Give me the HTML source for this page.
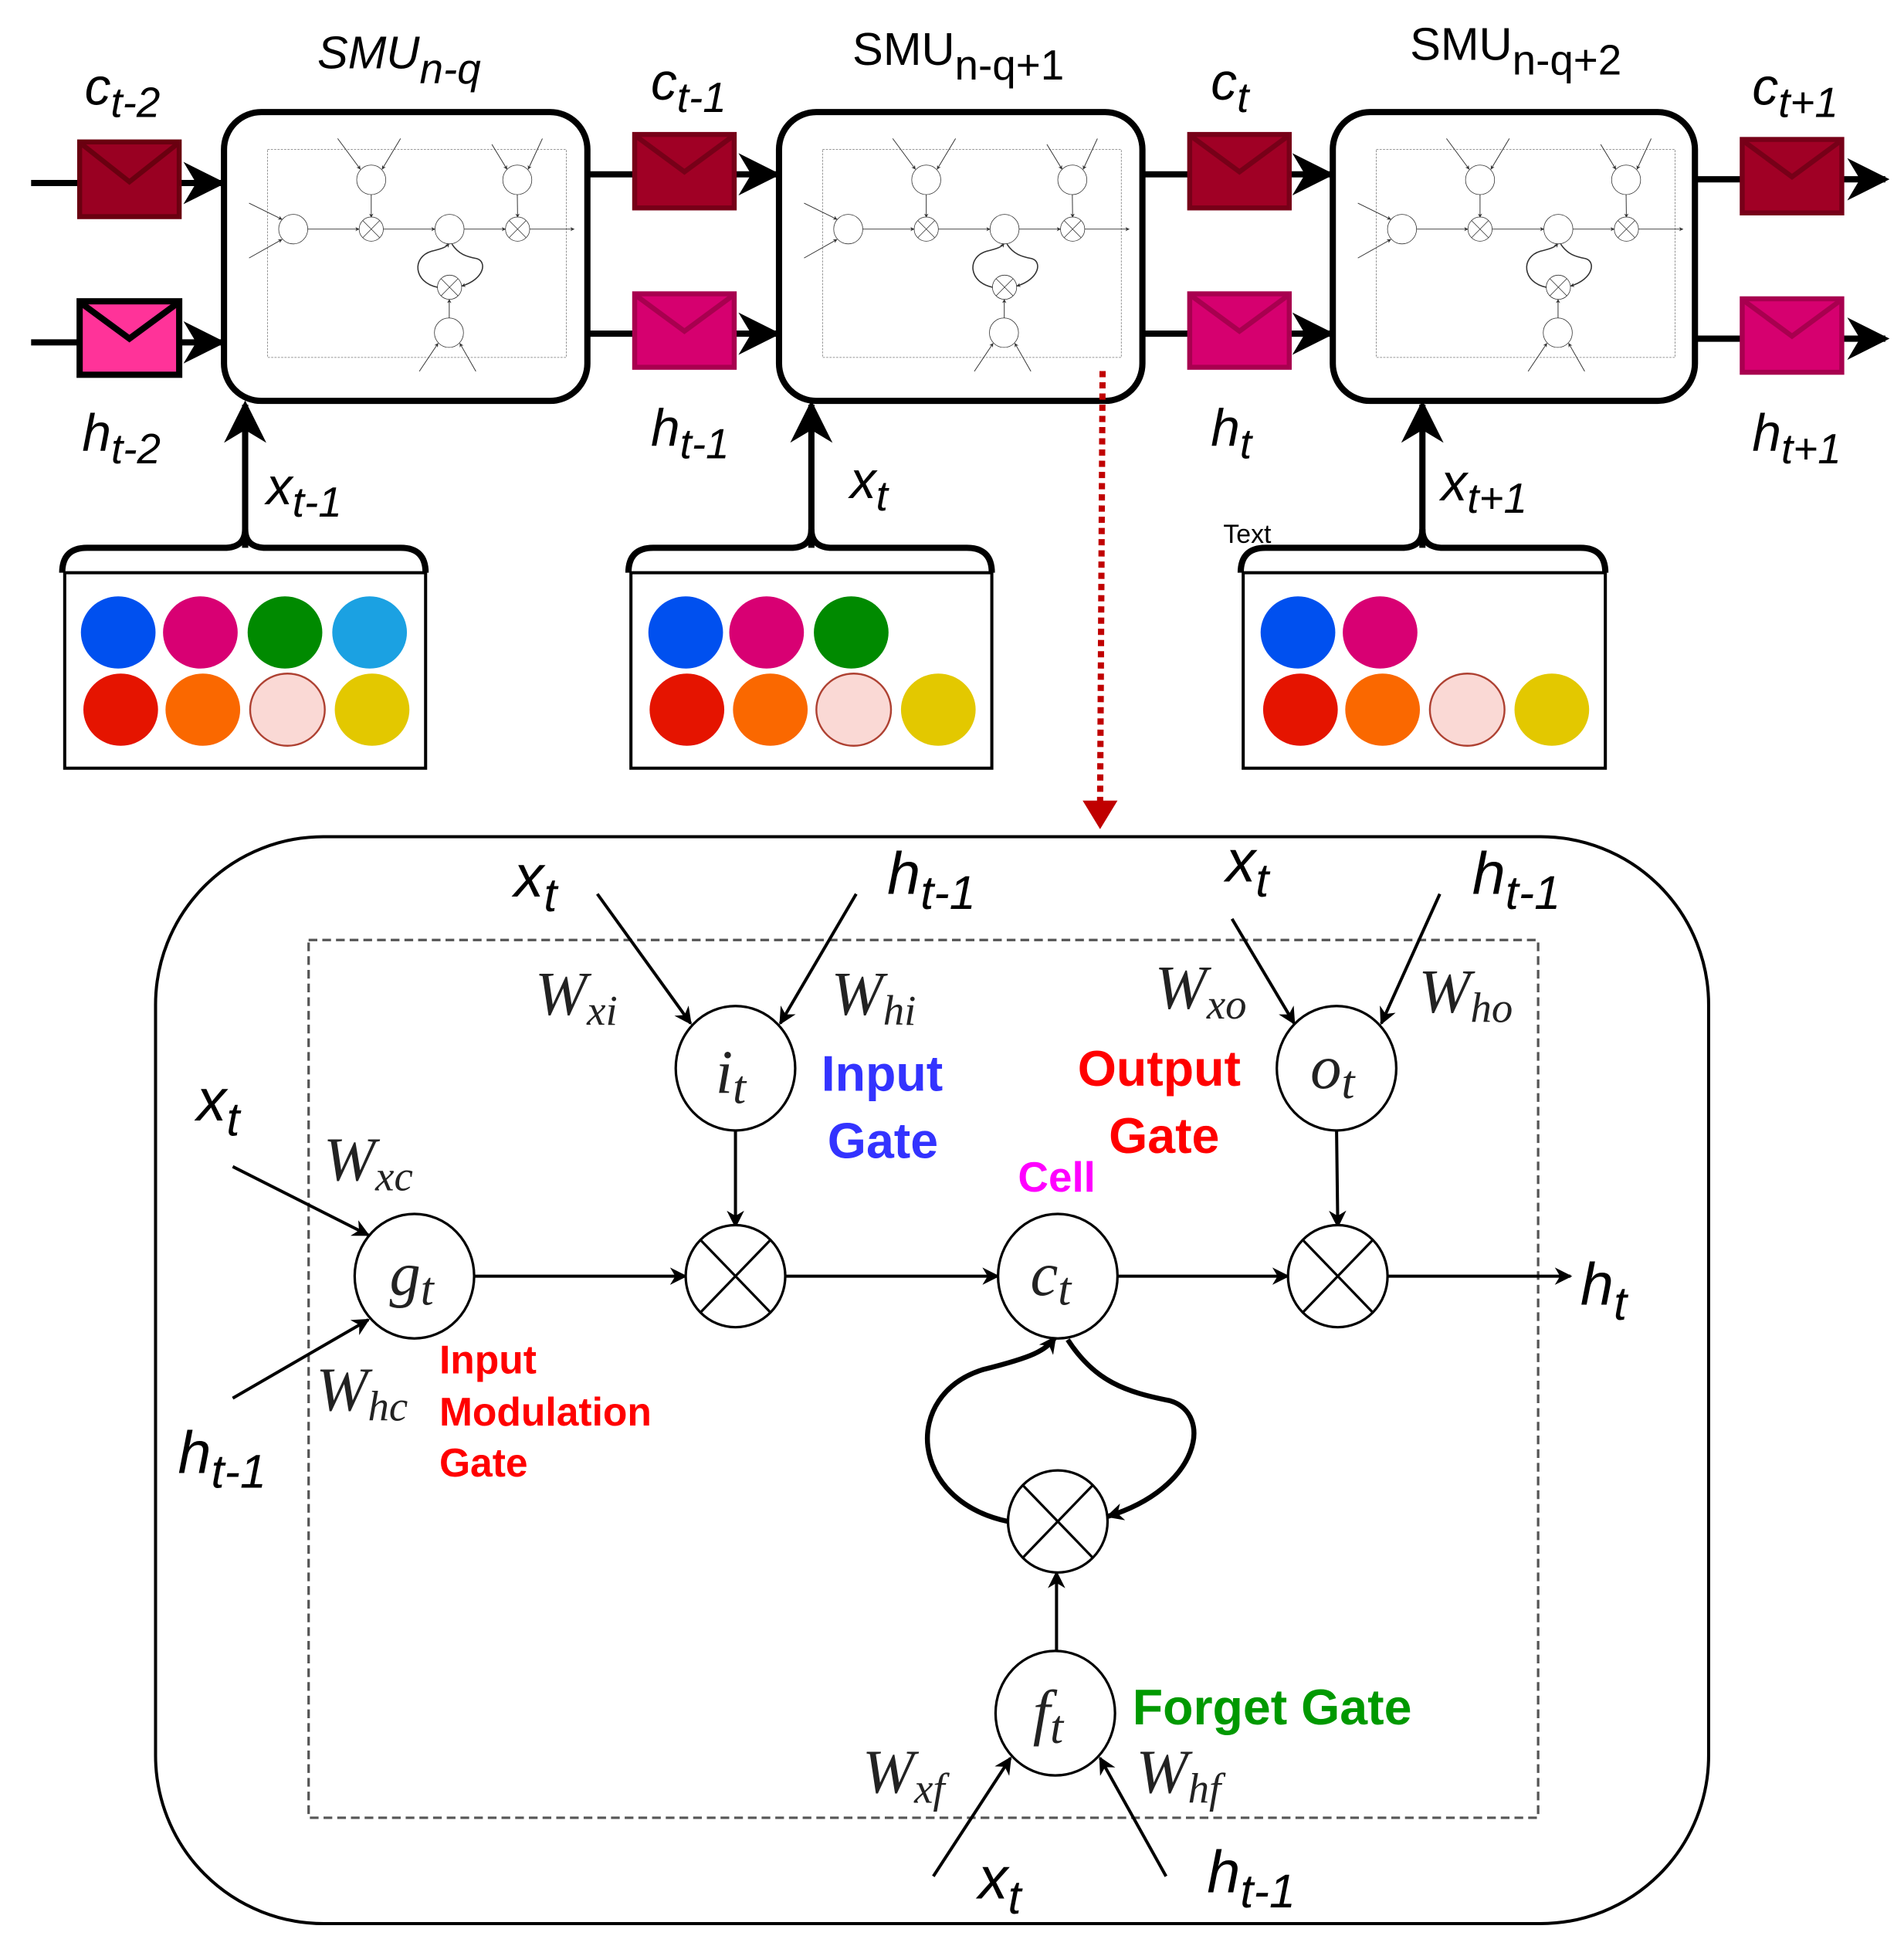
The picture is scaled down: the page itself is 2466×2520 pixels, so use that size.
<!DOCTYPE html>
<html><head><meta charset="utf-8"><style>
html,body{margin:0;padding:0;background:#fff}
svg{display:block}
text{font-family:"Liberation Sans",sans-serif}
.it{font-style:italic}
.ser{font-family:"Liberation Serif",serif;font-style:italic}
</style></head><body>
<svg width="2466" height="2520" viewBox="0 0 1530 1563" preserveAspectRatio="none" xmlns="http://www.w3.org/2000/svg">
<defs>
<marker id="as" viewBox="0 0 10 10" refX="9" refY="5" markerWidth="14" markerHeight="14" orient="auto" markerUnits="userSpaceOnUse"><path d="M0,0L10,5L0,10L3,5z" fill="#000"/></marker>
<marker id="ab" viewBox="0 0 10 10" refX="9" refY="5" markerWidth="34" markerHeight="34" orient="auto" markerUnits="userSpaceOnUse"><path d="M0,0L10,5L0,10L3,5z" fill="#000"/></marker>
<g id="core" fill="none" stroke="#000" stroke-width="2.5">
<rect x="248" y="755" width="988" height="705" stroke="#555" stroke-dasharray="7,4" stroke-width="2"/>
<line x1="480" y1="718" x2="555" y2="822" marker-end="url(#as)"/>
<line x1="688" y1="718" x2="627" y2="822" marker-end="url(#as)"/>
<line x1="990" y1="738" x2="1040" y2="822" marker-end="url(#as)"/>
<line x1="1157" y1="718" x2="1110" y2="822" marker-end="url(#as)"/>
<line x1="591" y1="906" x2="591" y2="985" marker-end="url(#as)"/>
<line x1="1074" y1="906" x2="1075" y2="985" marker-end="url(#as)"/>
<line x1="187" y1="937" x2="296" y2="992" marker-end="url(#as)"/>
<line x1="187" y1="1123" x2="296" y2="1060" marker-end="url(#as)"/>
<line x1="381" y1="1025" x2="551" y2="1025" marker-end="url(#as)"/>
<line x1="631" y1="1025" x2="802" y2="1025" marker-end="url(#as)"/>
<line x1="898" y1="1025" x2="1035" y2="1025" marker-end="url(#as)"/>
<line x1="1115" y1="1025" x2="1262" y2="1025" marker-end="url(#as)"/>
<line x1="849" y1="1328" x2="849" y2="1263" marker-end="url(#as)"/>
<path d="M810,1222 C730,1205 725,1120 790,1100 C830,1090 840,1085 848,1074" stroke-width="4" marker-end="url(#as)"/>
<path d="M858,1076 C880,1110 905,1118 940,1125 C975,1135 965,1195 890,1218" stroke-width="4" marker-end="url(#as)"/>
<line x1="750" y1="1507" x2="812" y2="1412" marker-end="url(#as)"/>
<line x1="937" y1="1507" x2="884" y2="1412" marker-end="url(#as)"/>
<g fill="#fff" stroke-width="2">
<ellipse cx="591" cy="858" rx="48" ry="50"/>
<ellipse cx="1074" cy="858" rx="48" ry="50"/>
<ellipse cx="333" cy="1025" rx="48" ry="50"/>
<ellipse cx="850" cy="1025" rx="48" ry="50"/>
<ellipse cx="848" cy="1376" rx="48" ry="50"/>
<ellipse cx="591" cy="1025" rx="40" ry="41"/>
<ellipse cx="1075" cy="1025" rx="40" ry="41"/>
<ellipse cx="850" cy="1222" rx="40" ry="41"/>
</g>
<path d="M563,996L619,1054M619,996L563,1054M1047,996L1103,1054M1103,996L1047,1054M822,1193L878,1251M878,1193L822,1251" stroke-width="2"/>
</g>
</defs>

<g fill="#fff" stroke="#000" stroke-width="5">
<rect x="180" y="90" width="292" height="232" rx="30"/>
<rect x="626" y="90" width="292" height="232" rx="30"/>
<rect x="1071" y="90" width="291" height="232" rx="30"/>
</g>
<g opacity="0.8">
<use href="#core" transform="translate(154.7,-58.9) scale(0.243,0.237)"/>
<use href="#core" transform="translate(600.7,-58.9) scale(0.243,0.237)"/>
<use href="#core" transform="translate(1045.7,-58.9) scale(0.243,0.237)"/>
</g>

<g stroke="#000" stroke-width="5" fill="none">
<line x1="25" y1="147" x2="178" y2="147" marker-end="url(#ab)"/>
<line x1="25" y1="275" x2="178" y2="275" marker-end="url(#ab)"/>
<line x1="472" y1="140" x2="624" y2="140" marker-end="url(#ab)"/>
<line x1="472" y1="268" x2="624" y2="268" marker-end="url(#ab)"/>
<line x1="918" y1="140" x2="1069" y2="140" marker-end="url(#ab)"/>
<line x1="918" y1="268" x2="1069" y2="268" marker-end="url(#ab)"/>
<line x1="1362" y1="144" x2="1515" y2="144" marker-end="url(#ab)"/>
<line x1="1362" y1="272" x2="1515" y2="272" marker-end="url(#ab)"/>
<line x1="197" y1="440" x2="197" y2="325" marker-end="url(#ab)"/>
<line x1="652" y1="440" x2="652" y2="325" marker-end="url(#ab)"/>
<line x1="1143" y1="440" x2="1143" y2="325" marker-end="url(#ab)"/>
</g>

<g stroke-width="4">
<rect x="64" y="114" width="80" height="60" fill="#990022" stroke="#6a0010"/>
<path d="M66,116L104,146L142,116" fill="none" stroke="#6a0010"/>
<rect x="64" y="242" width="80" height="59" fill="#ff3399" stroke="#000" stroke-width="5"/>
<path d="M66,244L104,272L142,244" fill="none" stroke="#000" stroke-width="5"/>
<rect x="510" y="108" width="80" height="59" fill="#a00025" stroke="#770018"/>
<path d="M512,110L550,138L588,110" fill="none" stroke="#770018"/>
<rect x="510" y="236" width="80" height="59" fill="#d6006f" stroke="#a8004f"/>
<path d="M512,238L550,266L588,238" fill="none" stroke="#a8004f"/>
<rect x="956" y="108" width="80" height="59" fill="#a00025" stroke="#770018"/>
<path d="M958,110L996,138L1034,110" fill="none" stroke="#770018"/>
<rect x="956" y="236" width="80" height="59" fill="#d6006f" stroke="#a8004f"/>
<path d="M958,238L996,266L1034,238" fill="none" stroke="#a8004f"/>
<rect x="1400" y="112" width="80" height="59" fill="#a00025" stroke="#770018"/>
<path d="M1402,114L1440,142L1478,114" fill="none" stroke="#770018"/>
<rect x="1400" y="240" width="80" height="59" fill="#d6006f" stroke="#a8004f"/>
<path d="M1402,242L1440,270L1478,242" fill="none" stroke="#a8004f"/>
</g>

<g fill="none" stroke="#000" stroke-width="5">
<path d="M50,460 Q50,440 70,440 L180,440 Q197,440 197,425 Q197,440 214,440 L322,440 Q342,440 342,460"/>
<path d="M505,460 Q505,440 525,440 L635,440 Q652,440 652,425 Q652,440 669,440 L777,440 Q797,440 797,460"/>
<path d="M997,460 Q997,440 1017,440 L1126,440 Q1143,440 1143,425 Q1143,440 1160,440 L1270,440 Q1290,440 1290,460"/>
</g>
<g fill="#fff" stroke="#000" stroke-width="2.5">
<rect x="52" y="460" width="290" height="157"/>
<rect x="507" y="460" width="290" height="157"/>
<rect x="999" y="460" width="291" height="157"/>
</g>
<g>
<ellipse cx="95" cy="508" rx="30" ry="29" fill="#0050ef"/>
<ellipse cx="161" cy="508" rx="30" ry="29" fill="#d80073"/>
<ellipse cx="229" cy="508" rx="30" ry="29" fill="#008a00"/>
<ellipse cx="297" cy="508" rx="30" ry="29" fill="#1ba1e2"/>
<ellipse cx="97" cy="570" rx="30" ry="29" fill="#e51400"/>
<ellipse cx="163" cy="570" rx="30" ry="29" fill="#fa6800"/>
<ellipse cx="231" cy="570" rx="30" ry="29" fill="#fad9d5" stroke="#ae4132" stroke-width="1.5"/>
<ellipse cx="299" cy="570" rx="30" ry="29" fill="#e3c800"/>
<ellipse cx="551" cy="508" rx="30" ry="29" fill="#0050ef"/>
<ellipse cx="616" cy="508" rx="30" ry="29" fill="#d80073"/>
<ellipse cx="684" cy="508" rx="30" ry="29" fill="#008a00"/>
<ellipse cx="552" cy="570" rx="30" ry="29" fill="#e51400"/>
<ellipse cx="619" cy="570" rx="30" ry="29" fill="#fa6800"/>
<ellipse cx="686" cy="570" rx="30" ry="29" fill="#fad9d5" stroke="#ae4132" stroke-width="1.5"/>
<ellipse cx="754" cy="570" rx="30" ry="29" fill="#e3c800"/>
<ellipse cx="1043" cy="508" rx="30" ry="29" fill="#0050ef"/>
<ellipse cx="1109" cy="508" rx="30" ry="29" fill="#d80073"/>
<ellipse cx="1045" cy="570" rx="30" ry="29" fill="#e51400"/>
<ellipse cx="1111" cy="570" rx="30" ry="29" fill="#fa6800"/>
<ellipse cx="1179" cy="570" rx="30" ry="29" fill="#fad9d5" stroke="#ae4132" stroke-width="1.5"/>
<ellipse cx="1247" cy="570" rx="30" ry="29" fill="#e3c800"/>
</g>

<line x1="886" y1="298" x2="884" y2="648" stroke="#c00000" stroke-width="5" stroke-dasharray="5,4"/>
<path d="M870,643L898,643L884,666z" fill="#c00000"/>

<g font-size="42" fill="#000">
<text x="68" y="84" class="it">c<tspan font-size="34" dy="10">t-2</tspan></text>
<text x="255" y="55" class="it" font-size="37">SMU<tspan font-size="34" dy="12">n-q</tspan></text>
<text x="523" y="80" class="it">c<tspan font-size="34" dy="10">t-1</tspan></text>
<text x="685" y="52" font-size="37">SMU<tspan font-size="34" dy="12">n-q+1</tspan></text>
<text x="973" y="80" class="it">c<tspan font-size="34" dy="10">t</tspan></text>
<text x="1133" y="48" font-size="37">SMU<tspan font-size="34" dy="12">n-q+2</tspan></text>
<text x="1408" y="84" class="it">c<tspan font-size="34" dy="10">t+1</tspan></text>
<text x="66" y="362" class="it">h<tspan font-size="34" dy="10">t-2</tspan></text>
<text x="523" y="358" class="it">h<tspan font-size="34" dy="10">t-1</tspan></text>
<text x="973" y="358" class="it">h<tspan font-size="34" dy="10">t</tspan></text>
<text x="1408" y="362" class="it">h<tspan font-size="34" dy="10">t+1</tspan></text>
<text x="214" y="405" class="it">x<tspan font-size="34" dy="10">t-1</tspan></text>
<text x="683" y="400" class="it">x<tspan font-size="34" dy="10">t</tspan></text>
<text x="1158" y="402" class="it">x<tspan font-size="34" dy="10">t+1</tspan></text>
<text x="983" y="436" font-size="21">Text</text>
</g>

<rect x="125" y="672" width="1248" height="873" rx="135" fill="none" stroke="#000" stroke-width="2.5"/>
<use href="#core"/>

<g fill="#000" font-size="48">
<text x="413" y="720" class="it">x<tspan font-size="38" dy="12">t</tspan></text>
<text x="713" y="718" class="it">h<tspan font-size="38" dy="12">t-1</tspan></text>
<text x="985" y="708" class="it">x<tspan font-size="38" dy="12">t</tspan></text>
<text x="1183" y="718" class="it">h<tspan font-size="38" dy="12">t-1</tspan></text>
<text x="158" y="900" class="it">x<tspan font-size="38" dy="12">t</tspan></text>
<text x="143" y="1183" class="it">h<tspan font-size="38" dy="12">t-1</tspan></text>
<text x="1270" y="1048" class="it">h<tspan font-size="38" dy="12">t</tspan></text>
<text x="786" y="1525" class="it">x<tspan font-size="38" dy="12">t</tspan></text>
<text x="970" y="1520" class="it">h<tspan font-size="38" dy="12">t-1</tspan></text>
</g>
<g fill="#222" font-size="50">
<text x="430" y="815" class="ser">W<tspan font-size="34" dy="8">xi</tspan></text>
<text x="668" y="815" class="ser">W<tspan font-size="34" dy="8">hi</tspan></text>
<text x="928" y="810" class="ser">W<tspan font-size="34" dy="8">xo</tspan></text>
<text x="1140" y="813" class="ser">W<tspan font-size="34" dy="8">ho</tspan></text>
<text x="260" y="948" class="ser">W<tspan font-size="34" dy="8">xc</tspan></text>
<text x="254" y="1133" class="ser">W<tspan font-size="34" dy="8">hc</tspan></text>
<text x="693" y="1440" class="ser">W<tspan font-size="34" dy="8">xf</tspan></text>
<text x="913" y="1440" class="ser">W<tspan font-size="34" dy="8">hf</tspan></text>
<text x="575" y="878" class="ser">i<tspan font-size="38" dy="8">t</tspan></text>
<text x="1053" y="874" class="ser">o<tspan font-size="38" dy="8">t</tspan></text>
<text x="313" y="1040" class="ser">g<tspan font-size="38" dy="8">t</tspan></text>
<text x="828" y="1040" class="ser">c<tspan font-size="38" dy="8">t</tspan></text>
<text x="830" y="1392" class="ser">f<tspan font-size="38" dy="8">t</tspan></text>
</g>
<g font-weight="bold">
<text x="660" y="876" font-size="40" fill="#3333ff">Input</text>
<text x="665" y="930" font-size="40" fill="#3333ff">Gate</text>
<text x="866" y="872" font-size="40" fill="#ff0000">Output</text>
<text x="891" y="926" font-size="40" fill="#ff0000">Gate</text>
<text x="818" y="957" font-size="34" fill="#ff00ff">Cell</text>
<text x="353" y="1103" font-size="32" fill="#ff0000">Input</text>
<text x="353" y="1145" font-size="32" fill="#ff0000">Modulation</text>
<text x="353" y="1186" font-size="32" fill="#ff0000">Gate</text>
<text x="910" y="1385" font-size="40" fill="#009900">Forget Gate</text>
</g>
</svg>
</body></html>
